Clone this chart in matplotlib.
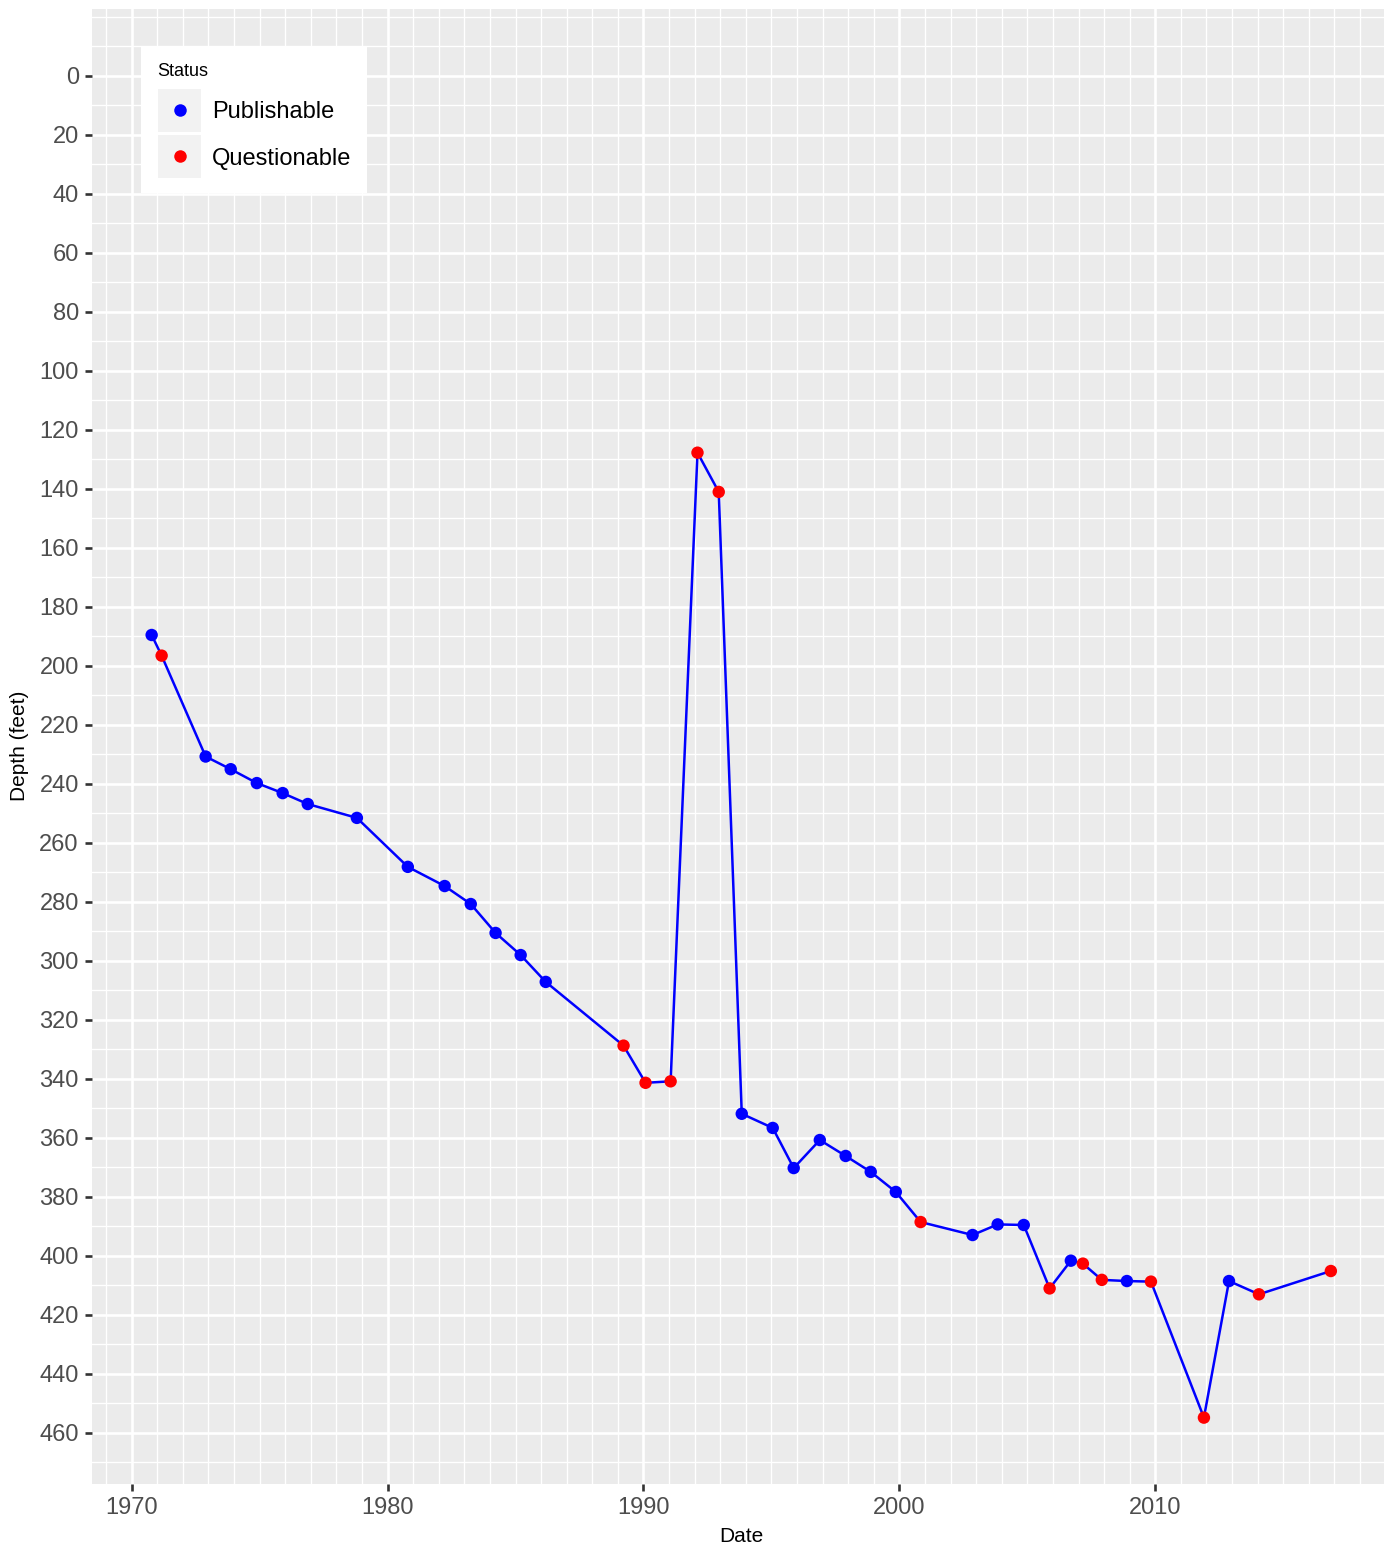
import matplotlib
matplotlib.use("Agg")
import matplotlib.pyplot as plt
from matplotlib.patches import Rectangle
from matplotlib.lines import Line2D
import numpy as np

plt.rcParams['font.family'] = ['Liberation Sans', 'DejaVu Sans']

# ---- data (decimal year, depth in feet, status) ----
years = [1970.78, 1971.17, 1972.89, 1973.87, 1974.89, 1975.90, 1976.88, 1978.80,
         1980.79, 1982.23, 1983.25, 1984.22, 1985.20, 1986.18, 1989.22, 1990.08,
         1991.06, 1992.11, 1992.94, 1993.84, 1995.05, 1995.87, 1996.89, 1997.90,
         1998.88, 1999.86, 2000.83, 2002.86, 2003.84, 2004.86, 2005.87, 2006.70,
         2007.17, 2007.91, 2008.89, 2009.83, 2011.90, 2012.88, 2014.05, 2016.86]
depth = [189.5, 196.5, 230.7, 235.0, 239.7, 243.1, 246.8, 251.5,
         268.1, 274.6, 280.7, 290.5, 298.0, 307.1, 328.7, 341.3,
         340.8, 127.7, 141.0, 351.8, 356.6, 370.2, 360.7, 366.1,
         371.5, 378.3, 388.5, 392.9, 389.3, 389.5, 411.0, 401.6,
         402.6, 408.1, 408.5, 408.7, 454.8, 408.5, 413.0, 405.1]
status = ['P', 'Q', 'P', 'P', 'P', 'P', 'P', 'P',
          'P', 'P', 'P', 'P', 'P', 'P', 'Q', 'Q',
          'Q', 'Q', 'Q', 'P', 'P', 'P', 'P', 'P',
          'P', 'P', 'Q', 'P', 'P', 'P', 'Q', 'P',
          'Q', 'Q', 'P', 'Q', 'Q', 'P', 'Q', 'Q']
status_names = {'P': 'Publishable', 'Q': 'Questionable'}
status_colors = {'P': '#0000FF', 'Q': '#FF0000'}
x_major = [1970, 1980, 1990, 2000, 2010]
y_major = list(range(0, 461, 20))

W, H = 1384, 1551
fig = plt.figure(figsize=(W / 100, H / 100), dpi=100)
fig.patch.set_facecolor('white')

L, R, T, B = 92, 1384, 9, 1484
ax = fig.add_axes([L / W, 1 - B / H, (R - L) / W, (B - T) / H])
ax.set_facecolor('#EBEBEB')
for s in ax.spines.values():
    s.set_visible(False)

ax.set_xlim(1968.449, 2018.937)
ax.set_ylim(477.3, -22.7)

ax.set_xticks(x_major)
ax.set_xticklabels([str(v) for v in x_major])
ax.set_xticks([y for y in range(1969, 2019) if y % 10 != 0], minor=True)
ax.set_yticks(y_major)
ax.set_yticklabels([str(v) for v in y_major])
ax.set_yticks([v for v in range(-20, 471, 10) if v % 20 != 0 or v < 0 or v > 460], minor=True)

ax.grid(which='major', color='white', linewidth=1.9)
ax.grid(which='minor', color='white', linewidth=0.95)
ax.set_axisbelow(True)
ax.tick_params(which='major', length=5, width=1.9, color='#333333',
               labelcolor='#4D4D4D', labelsize=17, pad=4.5)
ax.tick_params(which='minor', length=0)

ax.plot(years, depth, color='#0000FF', linewidth=1.8, zorder=3)
cols = [status_colors[s] for s in status]
ax.scatter(years, depth, c=cols, s=80, linewidths=0, zorder=4)

ax.set_xlabel('Date', fontsize=15, color='black')
ax.xaxis.set_label_coords((741 - L) / (R - L), (B - 1537) / (B - T))
ax.xaxis.label.set_va('center')
ax.set_ylabel('Depth (feet)', fontsize=15, color='black')
ax.yaxis.set_label_coords((20 - L) / (R - L), (B - 746) / (B - T))
ax.yaxis.label.set_va('center')

# ---- legend (manual, ggplot style) ----
def fx(x):
    return x / W

def fy(y):
    return 1 - y / H

fig.add_artist(Rectangle((fx(141), fy(193)), fx(367) - fx(141), fy(46) - fy(193),
                         transform=fig.transFigure, facecolor='white',
                         edgecolor='none', zorder=5))
fig.text(fx(157), fy(71), 'Status', fontsize=13, color='black',
         ha='left', va='center', zorder=6)
key_tops = [89, 135]
for key, top in zip(['P', 'Q'], key_tops):
    fig.add_artist(Rectangle((fx(158), fy(top + 43)), fx(201) - fx(158), fy(top) - fy(top + 43),
                             transform=fig.transFigure, facecolor='#F2F2F2',
                             edgecolor='none', zorder=6))
    cy = top + 21
    fig.add_artist(Line2D([fx(179.5)], [fy(cy)], transform=fig.transFigure,
                          marker='o', markersize=9, markeredgewidth=0,
                          color=status_colors[key], linestyle='none', zorder=7))
    fig.text(fx(212), fy(cy + 2.5), status_names[key], fontsize=17, color='black',
             ha='left', va='center', zorder=7)

fig.savefig('out.png', dpi=100, facecolor='white')
